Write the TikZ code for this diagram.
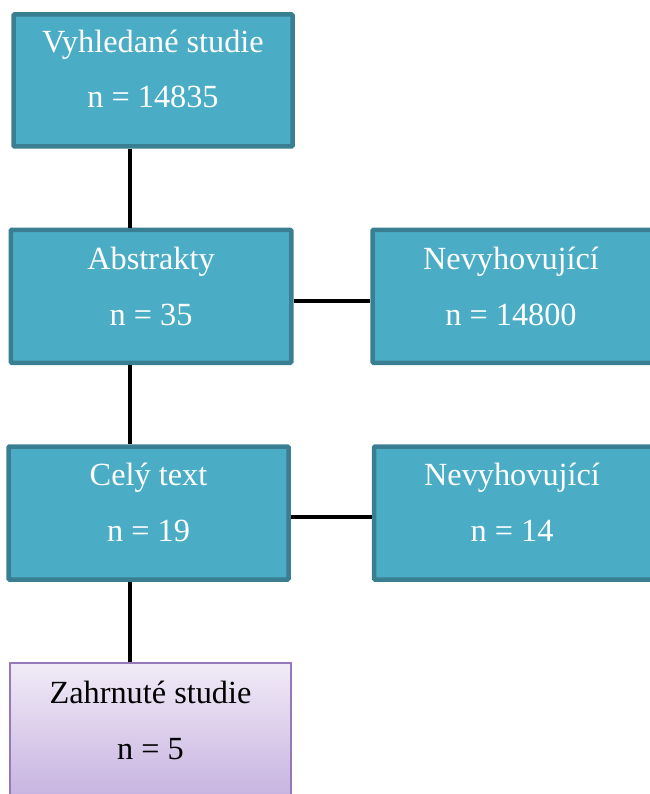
\documentclass[tikz,border=0pt]{standalone}
\usepackage{fontspec}
\setmainfont{Liberation Serif}
\usetikzlibrary{calc}
\definecolor{boxfill}{HTML}{4BACC6}
\definecolor{boxline}{HTML}{3A7F91}
\definecolor{lavtop}{HTML}{F1EBF7}
\definecolor{lavbot}{HTML}{C7B3E0}
\definecolor{lavline}{HTML}{9478B8}
\tikzset{
  bluebox/.style={draw=boxline, fill=boxfill, line width=4.5pt, rectangle, rounded corners=1pt,
    minimum width=280pt, minimum height=133pt, inner sep=0pt},
  purplebox/.style={draw=lavline, top color=lavtop, bottom color=lavbot, line width=1.6pt, rectangle,
    minimum width=281pt, minimum height=134pt, inner sep=0pt},
  wtxt/.style={anchor=base, text=white, font=\fontsize{32.3}{38}\selectfont, inner sep=0pt},
  btxt/.style={anchor=base, text=black, font=\fontsize{32.3}{38}\selectfont, inner sep=0pt},
  conn/.style={draw=black, line width=3.3pt}
}
\begin{document}
\begin{tikzpicture}[x=1pt,y=-1pt]
\useasboundingbox (0,0) rectangle (649,794);
% boxes
\node[bluebox, minimum width=279pt, minimum height=132pt] (v) at (153,80.5) {};
\node[bluebox, minimum width=280.5pt] (a) at (151,296.3) {};
\node[bluebox] (n1) at (512.5,296.3) {};
\node[bluebox] (c) at (148.5,513) {};
\node[bluebox] (n2) at (514,513) {};
\node[purplebox] (z) at (150.5,730) {};
% texts
\node[wtxt] (vt1) at (153,53) {Vyhledané studie};
\node[wtxt] (vt2) at (153,108) {n = 14835};
\node[wtxt] (at1) at (151,269) {Abstrakty};
\node[wtxt] (at2) at (151,325) {n = 35};
\node[wtxt] (nt1) at (511,269) {Nevyhovující};
\node[wtxt] (nt2) at (511,325) {n = 14800};
\node[wtxt] (ct1) at (148.5,485) {Celý text};
\node[wtxt] (ct2) at (148.5,541) {n = 19};
\node[wtxt] (mt1) at (512,485) {Nevyhovující};
\node[wtxt] (mt2) at (512,541) {n = 14};
\node[btxt] (zt1) at (150.5,703) {Zahrnuté studie};
\node[btxt] (zt2) at (150.5,759) {n = 5};
% connector guides
\coordinate (xv) at (130,0);
\coordinate (ya) at (0,301);
\coordinate (yc) at (0,517);
% connectors
\draw[conn] (v.south -| xv) -- (a.north -| xv);
\draw[conn] (a.south -| xv) -- (c.north -| xv);
\draw[conn] (c.south -| xv) -- (z.north -| xv);
\draw[conn] (a.east |- ya) -- (n1.west |- ya);
\draw[conn] (c.east |- yc) -- (n2.west |- yc);
\end{tikzpicture}
\end{document}
